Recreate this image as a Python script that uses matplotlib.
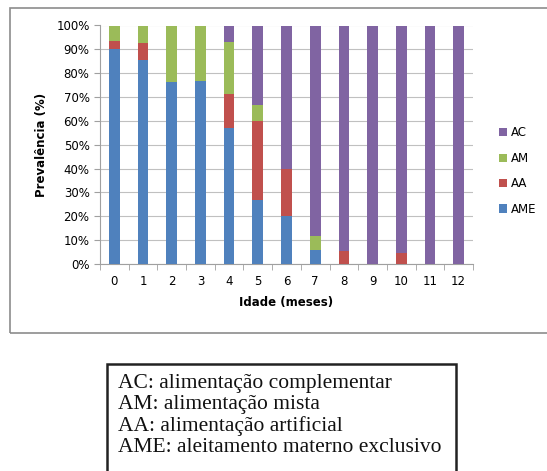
import matplotlib.pyplot as plt
from matplotlib.patches import Rectangle
import numpy as np

# idade em meses e prevalência (%) de cada tipo de alimentação
idade = [0, 1, 2, 3, 4, 5, 6, 7, 8, 9, 10, 11, 12]
ame = [90.0, 85.7, 76.5, 76.7, 57.1, 26.7, 20.0, 5.9, 0, 0, 0, 0, 0]
aa = [3.3, 7.1, 0, 0, 14.3, 33.3, 20.0, 0, 5.5, 0, 4.6, 0, 0]
am = [6.7, 7.2, 23.5, 23.3, 21.5, 6.7, 0, 5.9, 0, 0, 0, 0, 0]
ac = [0, 0, 0, 0, 7.1, 33.3, 60.0, 88.2, 94.5, 100, 95.4, 100, 100]

series = [("AME", ame, "#4f81bd"), ("AA", aa, "#c0504d"),
          ("AM", am, "#9bbb59"), ("AC", ac, "#8064a2")]

legenda = ["AC: alimentação complementar",
           "AM: alimentação mista",
           "AA: alimentação artificial",
           "AME: aleitamento materno exclusivo"]

W, H = 547, 471
fig = plt.figure(figsize=(W / 100, H / 100), dpi=100)

# moldura cinza do gráfico
fig.patches.append(Rectangle((10 / W, 1 - 333 / H), 540 / W, 325 / H,
                             transform=fig.transFigure, fill=False,
                             edgecolor="#8c8c8c", linewidth=1.2))

ax = fig.add_axes([100 / W, 1 - 264 / H, 373 / W, 238.5 / H])
x = np.arange(len(idade))
bottom = np.zeros(len(idade))
handles = {}
for name, vals, color in series:
    b = ax.bar(x, vals, 0.37, bottom=bottom, color=color, label=name, zorder=3)
    handles[name] = b
    bottom += np.array(vals)

ax.set_xlim(-0.5, len(idade) - 0.5)
ax.set_ylim(0, 100)
ax.set_yticks(range(0, 101, 10))
ax.set_yticklabels([f"{v}%" for v in range(0, 101, 10)])
ax.set_xticks(x)
ax.set_xticklabels([str(i) for i in idade])
ax.set_xticks(np.arange(-0.5, len(idade), 1), minor=True)
ax.grid(axis="y", color="#c0c0c0", linewidth=0.8, zorder=0)
for s in ["top", "right"]:
    ax.spines[s].set_visible(False)
for s in ["left", "bottom"]:
    ax.spines[s].set_color("#a0a0a0")
ax.tick_params(axis="x", which="major", length=0, pad=8, labelsize=8.5)
ax.tick_params(axis="x", which="minor", length=4, color="#a0a0a0")
ax.tick_params(axis="y", length=4, color="#a0a0a0", labelsize=8.5)
ax.set_xlabel("Idade (meses)", fontweight="bold", fontsize=8.5, labelpad=6)
ax.set_ylabel("Prevalência (%)", fontweight="bold", fontsize=8.5, labelpad=6)

ax.legend([handles[n] for n in ["AC", "AM", "AA", "AME"]],
          ["AC", "AM", "AA", "AME"], loc="center left",
          bbox_to_anchor=(488 / W, 1 - 171 / H), bbox_transform=fig.transFigure,
          frameon=False, fontsize=8.5, handlelength=0.7, handleheight=0.7,
          handletextpad=0.3, labelspacing=1.05)

# caixa com a descrição das siglas
fig.patches.append(Rectangle((107 / W, -0.02), 349 / W, (H - 364) / H + 0.02,
                             transform=fig.transFigure, fill=False,
                             edgecolor="#222222", linewidth=1.8))
for i, t in enumerate(legenda):
    fig.text(118 / W, 1 - (388 + i * 21.3) / H, t, family="Liberation Serif",
             fontsize=15.5, va="baseline", ha="left", color="#111111")

fig.savefig("out.png", dpi=100)
